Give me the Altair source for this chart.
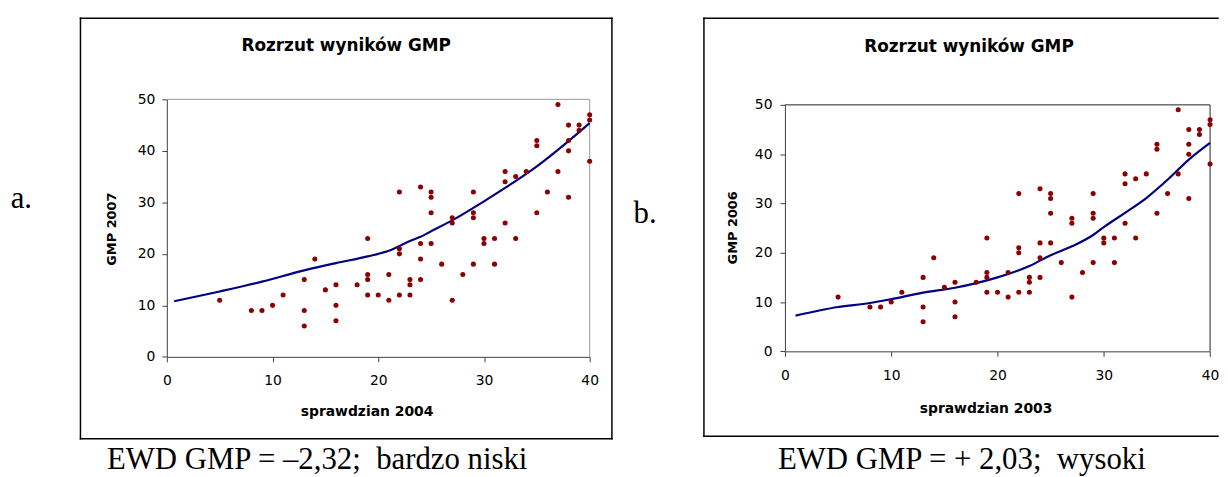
import altair as alt
import pandas as pd

# Scatter data (identical in both panels)
sprawdzian = [5, 8, 9, 10, 11, 13, 13, 13, 14, 15, 16, 16, 16, 18, 19, 19, 19, 19, 20, 21, 21,
              22, 22, 22, 22, 23, 23, 23, 24, 24, 24, 24, 25, 25, 25, 25, 26, 27, 27, 27, 28,
              29, 29, 29, 29, 30, 30, 31, 31, 32, 32, 32, 33, 33, 34, 35, 35, 35, 36, 37, 37,
              38, 38, 38, 38, 39, 39, 40, 40, 40]
gmp = [11, 9, 9, 10, 12, 15, 9, 6, 19, 13, 14, 10, 7, 14, 23, 16, 15, 12, 12, 16, 11,
       32, 21, 20, 12, 15, 14, 12, 33, 22, 19, 15, 32, 31, 28, 22, 18, 27, 26, 11, 16,
       32, 28, 27, 18, 23, 22, 23, 18, 36, 34, 26, 35, 23, 36, 42, 41, 28, 32, 49, 36,
       45, 42, 40, 31, 45, 44, 47, 46, 38]

# Trend curves
curve_a_x = [0.7, 5, 9, 13, 16, 19, 21, 23, 24, 25, 27, 30, 32, 35, 38, 40]
curve_a_y = [10.8, 12.7, 14.6, 16.8, 18.2, 19.5, 20.6, 22.5, 23.3, 24.4, 26.5, 30.2, 32.8, 37.0, 41.9, 45.4]
curve_b_x = [1, 5, 8, 10, 13, 16, 20, 23, 25, 27, 29, 30, 32, 34, 36, 38, 40]
curve_b_y = [7.25, 9.0, 9.8, 10.6, 11.9, 12.9, 15.0, 17.3, 19.5, 21.3, 23.6, 25.2, 28.1, 31.1, 34.8, 38.9, 42.3]

x_ticks = [0, 10, 20, 30, 40]
y_ticks = [0, 10, 20, 30, 40, 50]

title_text = "Rozrzut wyników GMP"
panel_a = dict(label="a.", ytitle="GMP 2007", xtitle="sprawdzian 2004",
               caption="EWD GMP = \u20132,32;\u00a0 bardzo niski")
panel_b = dict(label="b.", ytitle="GMP 2006", xtitle="sprawdzian 2003",
               caption="EWD GMP = + 2,03;\u00a0 wysoki")

pts = pd.DataFrame({"x": sprawdzian, "y": gmp})
one = pd.DataFrame({"d": [0]})

DOT = "#8b0000"
LINE = "#000080"
SANS = "DejaVu Sans"
SERIF = "Liberation Serif"


def edge(x1, x2, y1, y2):
    return alt.Chart(one).mark_rule(color="black", strokeWidth=1.5, strokeCap="square").encode(
        x=alt.value(x1), x2=alt.value(x2), y=alt.value(y1), y2=alt.value(y2))


def make_panel(info, cx, cy, w, h, lay, frame_color, xpad, ypad):
    xs = alt.Scale(domain=[0, 40], nice=False)
    ys = alt.Scale(domain=[0, 50], nice=False)
    xax = alt.Axis(values=x_ticks, title=None, grid=False, tickSize=5, labelPadding=xpad,
                   labelFlush=False, labelOverlap=False,
                   labelFont=SANS, labelFontSize=14, labelColor="black", format="d")
    yax = alt.Axis(values=y_ticks, title=None, grid=False, tickSize=5, labelPadding=ypad,
                   labelFlush=False, labelOverlap=False,
                   labelFont=SANS, labelFontSize=14, labelColor="black", format="d")

    curve = pd.DataFrame({"x": cx, "y": cy})

    frame_top = alt.Chart(one).mark_rule(color=frame_color, strokeWidth=1).encode(
        x=alt.datum(0, scale=xs, axis=xax), x2=alt.datum(40), y=alt.datum(50, scale=ys, axis=yax))
    frame_right = alt.Chart(one).mark_rule(color=frame_color, strokeWidth=1).encode(
        x=alt.datum(40), y=alt.datum(0), y2=alt.datum(50))

    dots = alt.Chart(pts).mark_circle(color=DOT, opacity=1, size=26).encode(
        x=alt.X("x:Q", scale=xs, axis=xax),
        y=alt.Y("y:Q", scale=ys, axis=yax))
    line = alt.Chart(curve).mark_line(color=LINE, strokeWidth=2.2, interpolate="monotone").encode(
        x=alt.X("x:Q", scale=xs, axis=xax),
        y=alt.Y("y:Q", scale=ys, axis=yax))

    bx1, bx2, by1, by2 = lay["bx1"], lay["bx2"], lay["by1"], lay["by2"]
    box = [edge(bx1, bx2, by1, by1), edge(bx1, bx1, by1, by2), edge(bx1, bx2, by2, by2)]
    if lay.get("right_edge", True):
        box.append(edge(bx2, bx2, by1, by2))

    title = alt.Chart(one).mark_text(text=title_text, font=SANS, fontSize=17, fontWeight="bold",
                                     align="center", baseline="alphabetic", color="black").encode(
        x=alt.value(lay["tx"]), y=alt.value(lay["ty"]))
    ytitle = alt.Chart(one).mark_text(text=info["ytitle"], font=SANS, fontSize=13, fontWeight="bold",
                                      align="center", baseline="middle", angle=270, color="black").encode(
        x=alt.value(lay["yx"]), y=alt.value(lay["yy"]))
    xtitle = alt.Chart(one).mark_text(text=info["xtitle"], font=SANS, fontSize=14, fontWeight="bold",
                                      align="center", baseline="alphabetic", color="black").encode(
        x=alt.value(lay["xx"]), y=alt.value(lay["xy"]))
    label = alt.Chart(one).mark_text(text=info["label"], font=SERIF, fontSize=31,
                                     align="left", baseline="alphabetic", color="black").encode(
        x=alt.value(lay["lx"]), y=alt.value(lay["ly"]))
    caption = alt.Chart(one).mark_text(text=info["caption"], font=SERIF, fontSize=31,
                                       align="left", baseline="alphabetic", color="black").encode(
        x=alt.value(lay["cx"]), y=alt.value(lay["cy"]))

    layers = box + [frame_top, frame_right, line, dots, title, ytitle, xtitle, label, caption]
    if lay.get("anchor"):
        anchor = alt.Chart(one).mark_rect(fill="white").encode(
            x=alt.value(lay["ax"]), x2=alt.value(lay["ax"] + 1),
            y=alt.value(lay["ay"]), y2=alt.value(lay["ay"] + 1))
        layers = [anchor] + layers
    return alt.layer(*layers).properties(width=w, height=h)


lay_a = dict(bx1=-87, bx2=448.4, by1=-81.6, by2=342,
             tx=180.7, ty=-48.8, yx=-55.3, yy=130.7, xx=201.7, xy=318.7,
             lx=-157.3, ly=109.2, cx=-60.3, cy=372.2,
             anchor=True, ax=-159.3, ay=-89.3)
lay_b = dict(bx1=-81.6, bx2=436.3, by1=-87.15, by2=333.85, right_edge=False,
             tx=185.4, ty=-53.35, yx=-52.3, yy=123.85, xx=202.6, xy=310.45,
             lx=-152.5, ly=119.15, cx=-7, cy=366.65)

chart_a = make_panel(panel_a, curve_a_x, curve_a_y, 426, 259.4, lay_a, "#9a9a9a", 11.5, 7)
chart_b = make_panel(panel_b, curve_b_x, curve_b_y, 428.3, 248.3, lay_b, "#222222", 12, 8)

chart = alt.hconcat(chart_a, chart_b, spacing=196.7, bounds="flush", center=True).properties(
    padding=0, background="white"
).configure_view(stroke="transparent").configure_axis(
    domainColor="#404040", tickColor="#404040", domainWidth=1, tickWidth=1
)

chart.save("out.html", embed_options={"renderer": "svg", "actions": False})
